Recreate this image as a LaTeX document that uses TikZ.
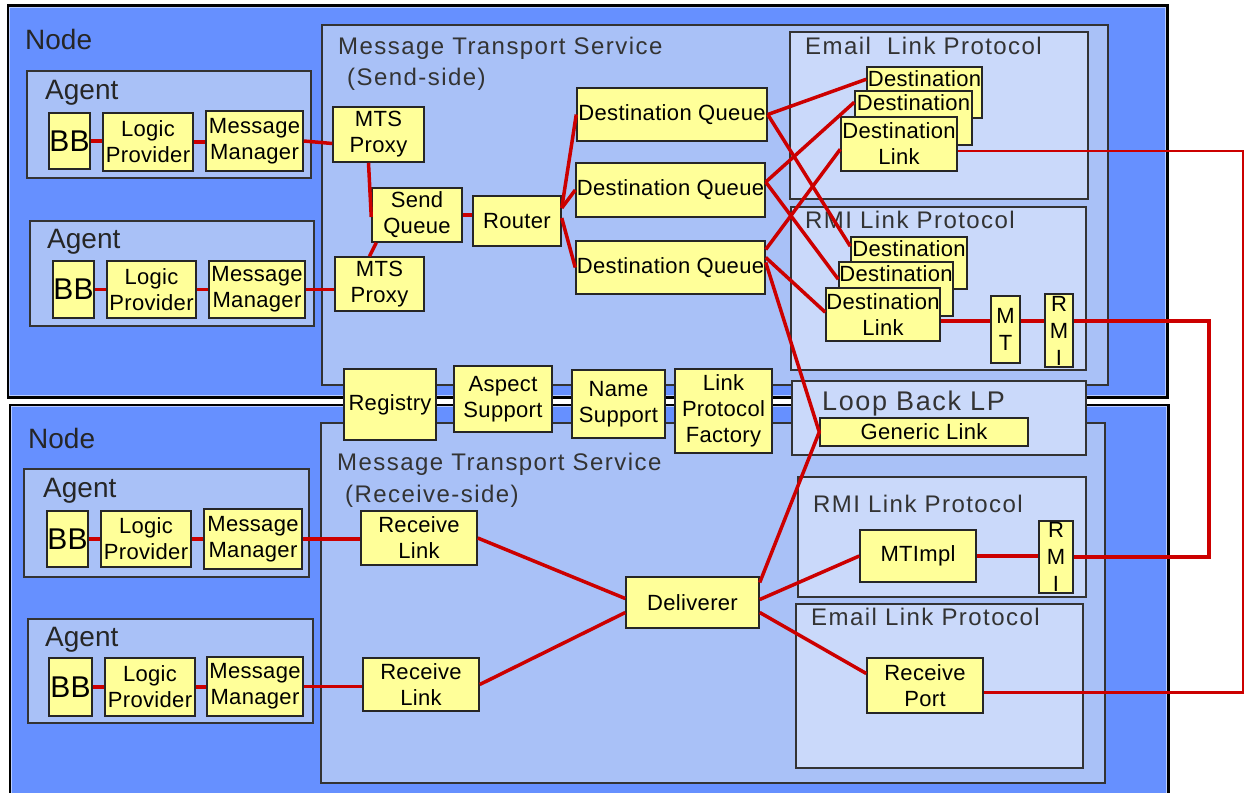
\documentclass[tikz,border=0pt]{standalone}
\usepackage{fontspec}
\setmainfont{Liberation Sans}
\newfontfamily\ttlfam[LetterSpace=6]{Liberation Sans}
\newfontfamily\bxfam[LetterSpace=1.5]{Liberation Sans}
\usetikzlibrary{calc}
\definecolor{nodeblue}{HTML}{6690FF}
\definecolor{mtsblue}{HTML}{A9C1F7}
\definecolor{lpblue}{HTML}{CAD9FA}
\definecolor{boxyellow}{HTML}{FFFF99}
\definecolor{linkred}{HTML}{CC0000}
\newcommand{\ttlf}{\ttlfam\fontsize{24}{28}\selectfont}
\newcommand{\bxf}{\bxfam\fontsize{22}{26}\selectfont}
\newcommand{\vbxf}{\bxfam\fontsize{22}{27}\selectfont}
\newcommand{\bigf}{\fontsize{28}{32}\selectfont}
\newcommand{\bbf}{\fontsize{30}{32}\selectfont}
% \bx{style}{name}{x1}{y1}{x2}{y2}{text}
\newcommand{\bx}[7]{\node[#1, minimum width={#5-#3}, minimum height={#6-#4}] (#2) at ({(#3+#5)/2},{(#4+#6)/2}) {#7};}
\tikzset{
  nodebg/.style={fill=nodeblue, draw=black, line width=3pt, inner sep=0pt},
  innerline/.style={draw=white!55!nodeblue, line width=1pt},
  cont/.style={fill=mtsblue, draw=black!80, line width=1.2pt, inner sep=0pt},
  lpcont/.style={fill=lpblue, draw=black!80, line width=1.2pt, inner sep=0pt},
  box/.style={fill=boxyellow, draw=black!85, line width=1.5pt, inner sep=0pt, align=center, font=\bxf},
  bbbox/.style={box, font=\bbf},
  vbox/.style={box, font=\vbxf},
  dest/.style={box, text height=19pt, text depth={#1-19pt}},
  link/.style={draw=linkred, line width=3.5pt},
  ttl/.style={anchor=base west, inner sep=0pt, font=\ttlf, text=black!80},
  bigt/.style={anchor=base west, inner sep=0pt, font=\bigf, text=black!85},
}
\begin{document}
\begin{tikzpicture}[x=1pt,y=-1pt]
\useasboundingbox (0,0) rectangle (1246,792);
\clip (0,0) rectangle (1246,792);
\fill[white] (0,0) rectangle (1246,792);

% nodes (machines)
\bx{nodebg}{node1}{8}{6}{1167}{397}{}
\bx{nodebg}{node2}{10}{405}{1168}{812}{}
\draw[innerline] ([shift={(3pt,-3pt)}]node1.north west) rectangle ([shift={(-3pt,3pt)}]node1.south east);
\draw[innerline] ([shift={(3pt,-3pt)}]node2.north west) rectangle ([shift={(-3pt,3pt)}]node2.south east);

% containers
\bx{cont}{agent1}{27}{71}{311}{178}{}
\bx{cont}{agent2}{30}{221}{314}{326}{}
\bx{cont}{agent3}{24}{469}{309}{577}{}
\bx{cont}{agent4}{28}{619}{313}{723}{}
\bx{cont}{mtsS}{322}{25}{1108}{385}{}
\bx{cont}{mtsR}{321}{423}{1105}{783}{}
\bx{lpcont}{eLP1}{790}{32}{1088}{199}{}
\bx{lpcont}{rLP1}{791}{207}{1086}{370}{}
\bx{lpcont}{loop}{792}{381}{1086}{455}{}
\bx{lpcont}{rLP2}{798}{477}{1086}{597}{}
\bx{lpcont}{eLP2}{796}{604}{1083}{768}{}

% titles
\node[bigt] (nodeT1) at (25,50) {Node};
\node[bigt] (nodeT2) at (28,448) {Node};
\node[bigt] (agT1) at (45,99) {Agent};
\node[bigt] (agT2) at (47,248) {Agent};
\node[bigt] (agT3) at (43,497) {Agent};
\node[bigt] (agT4) at (45,646) {Agent};
\node[ttl] (mtsST1) at (338,55) {Message Transport Service};
\node[ttl] (mtsST2) at (347,85) {(Send-side)};
\node[ttl] (mtsRT1) at (337,470) {Message Transport Service};
\node[ttl] (mtsRT2) at (345,502) {(Receive-side)};
\node[ttl] (eLP1T) at (805,55) {Email\ \ Link Protocol};
\node[ttl] (rLP1T) at (805,228) {RMI Link Protocol};
\node[ttl, font=\ttlfam\fontsize{27}{30}\selectfont] (loopT) at (822,410) {Loop Back LP};
\node[ttl] (rLP2T) at (813,512) {RMI Link Protocol};
\node[ttl] (eLP2T) at (811,625) {Email Link Protocol};

% boxes, send side
\bx{bbbox}{bb1}{49}{113}{90}{169}{BB}
\bx{box}{lp1}{103}{113}{193}{171}{Logic\\Provider}
\bx{box}{mm1}{206}{111}{303}{171}{Message\\Manager}
\bx{bbbox}{bb2}{53}{261}{94}{318}{BB}
\bx{box}{lp2}{107}{261}{196}{318}{Logic\\Provider}
\bx{box}{mm2}{209}{261}{305}{318}{Message\\Manager}
\bx{box}{p1}{333}{107}{424}{162}{MTS\\Proxy}
\bx{box}{p2}{335}{257}{424}{311}{MTS\\Proxy}
\bx{box}{sq}{372}{188}{462}{242}{Send\\Queue}
\bx{box}{rt}{473}{196}{561}{246}{Router}
\bx{box}{dq1}{577}{88}{767}{141}{Destination Queue}
\bx{box}{dq2}{576}{163}{765}{217}{Destination Queue}
\bx{box}{dq3}{576}{241}{765}{294}{Destination Queue}
\bx{dest=51pt}{eD1}{867}{67}{982}{118}{Destination}
\bx{dest=54pt}{eD2}{855}{91}{972}{145}{Destination}
\bx{box}{eDL}{841}{117}{957}{171}{Destination\\Link}
\bx{dest=52pt}{rD1}{851}{237}{967}{289}{Destination}
\bx{dest=54pt}{rD2}{839}{262}{953}{316}{Destination}
\bx{box}{rDL}{826}{288}{940}{341}{Destination\\Link}
\bx{vbox}{mt}{991}{296}{1020}{363}{M\\T}
\bx{vbox}{rmi1}{1045}{294}{1073}{367}{R\\M\\I}

% shared services
\bx{box}{reg}{344}{369}{436}{440}{Registry}
\bx{box}{asp}{454}{366}{552}{432}{Aspect\\Support}
\bx{box}{nam}{572}{370}{665}{438}{Name\\Support}
\bx{box}{lpf}{675}{369}{772}{453}{Link\\Protocol\\Factory}
\bx{box}{gl}{820}{418}{1028}{446}{Generic Link}

% boxes, receive side
\bx{bbbox}{bb3}{47}{511}{88}{567}{BB}
\bx{box}{lp3}{101}{511}{191}{567}{Logic\\Provider}
\bx{box}{mm3}{204}{509}{302}{569}{Message\\Manager}
\bx{bbbox}{bb4}{49}{658}{92}{716}{BB}
\bx{box}{lp4}{105}{658}{195}{716}{Logic\\Provider}
\bx{box}{mm4}{207}{657}{303}{716}{Message\\Manager}
\bx{box}{rl1}{361}{511}{477}{565}{Receive\\Link}
\bx{box}{rl2}{363}{658}{479}{711}{Receive\\Link}
\bx{box}{dlv}{626}{577}{759}{628}{Deliverer}
\bx{box}{mti}{860}{530}{976}{582}{MTImpl}
\bx{vbox}{rmi2}{1039}{521}{1073}{593}{R\\M\\I}
\bx{box}{rp}{867}{658}{983}{713}{Receive\\Port}

% connectors, send side
\draw[link] (bb1.east) -- (bb1.east -| lp1.west);
\draw[link] (lp1.east) -- (lp1.east -| mm1.west);
\draw[link] (mm1.east) -- ([yshift=-9pt]p1.west);
\draw[link] (bb2.east) -- (bb2.east -| lp2.west);
\draw[link] (lp2.east) -- (lp2.east -| mm2.west);
\draw[link] (mm2.east) -- (mm2.east -| p2.west);
\draw[link] ([xshift=-10pt]p1.south) -- ([yshift=-2pt]sq.west);
\draw[link] ([xshift=5pt]sq.south west) -- ([xshift=-10pt]p2.north);
\draw[link] (sq.east) -- (sq.east -| rt.west);
\draw[link] ([yshift=13pt]rt.east) -- (dq1.west);
\draw[link] ([yshift=13pt]rt.east) -- (dq2.west);
\draw[link] ([yshift=3pt]rt.east) -- (dq3.west);
\draw[link] (dq1.east) -- ([yshift=-13pt]eD1.north west);
\draw[link] (dq1.east) -- ([yshift=-10pt]rD1.north west);
\draw[link] ([yshift=8pt]dq2.east) -- ([yshift=-12pt]eD2.north west);
\draw[link] ([yshift=8pt]dq2.east) -- ([yshift=-18pt]rD2.north west);
\draw[link] ([yshift=18pt]dq3.east) -- ([yshift=-33pt]eDL.north west);
\draw[link] ([yshift=10pt]dq3.east) -- ([yshift=-25pt]rDL.north west);
\draw[link] ([yshift=5pt]dq3.east) -- (gl.west) -- ([yshift=20pt]dlv.east);

\coordinate (ry) at (0,321);
\coordinate (xr) at (1209,0);
\coordinate (xe) at (1243,0);
\draw[link] (rDL.east |- ry) -- (mt.west |- ry);
\draw[link] (mt.east |- ry) -- (rmi1.west |- ry);
\draw[link] (rmi1.east |- ry) -- (xr |- ry) -- (xr |- rmi2.east) -- (rmi2.east);
\coordinate (eo) at ([yshift=-7pt]eDL.east);
\coordinate (po) at ([yshift=-7pt]rp.east);
\draw[link, line width=2.5pt] (eo) -- (eo -| xe) -- (po -| xe) -- (po);

% connectors, receive side
\draw[link] (bb3.east) -- (bb3.east -| lp3.west);
\draw[link] (lp3.east) -- (lp3.east -| mm3.west);
\draw[link] (mm3.east) -- (mm3.east -| rl1.west);
\draw[link] (bb4.east) -- (bb4.east -| lp4.west);
\draw[link] (lp4.east) -- (lp4.east -| mm4.west);
\draw[link] (mm4.east) -- (mm4.east -| rl2.west);
\draw[link] (rl1.east) -- ([yshift=4pt]dlv.west);
\draw[link] (rl2.east) -- ([yshift=-10pt]dlv.west);
\draw[link] ([yshift=3pt]dlv.east) -- (mti.west);
\draw[link] ([yshift=-10pt]dlv.east) -- ([yshift=12pt]rp.west);
\draw[link] (mti.east) -- (mti.east -| rmi2.west);
\end{tikzpicture}
\end{document}
